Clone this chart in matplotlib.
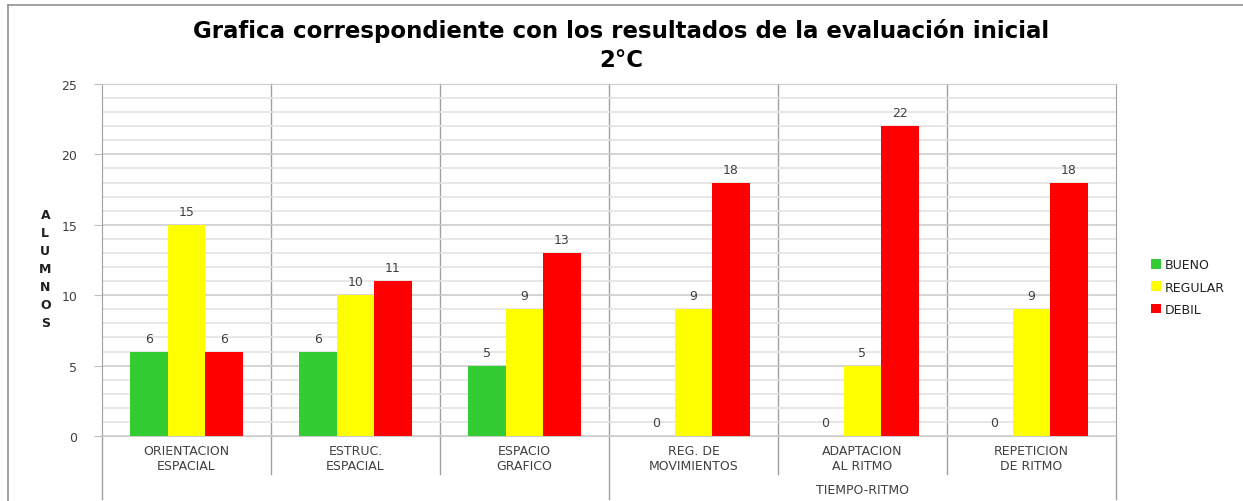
import numpy as np
import matplotlib.pyplot as plt
from matplotlib.lines import Line2D

# data
categories = ['ORIENTACION\nESPACIAL', 'ESTRUC.\nESPACIAL', 'ESPACIO\nGRAFICO',
              'REG. DE\nMOVIMIENTOS', 'ADAPTACION\nAL RITMO', 'REPETICION\nDE RITMO']
bueno = [6, 6, 5, 0, 0, 0]
regular = [15, 10, 9, 9, 5, 9]
debil = [6, 11, 13, 18, 22, 18]
series_names = ['BUENO', 'REGULAR', 'DEBIL']
group_label = 'TIEMPO-RITMO'

colors = ['#33cc33', '#ffff00', '#ff0000']
txt = '#404040'

fig = plt.figure(figsize=(12.43, 5.02), dpi=100, facecolor='white')
ax = fig.add_axes([0.0821, 0.1295, 0.8157, 0.7012])

x = np.arange(len(categories))
w = 0.222
for i, (vals, name) in enumerate(zip([bueno, regular, debil], series_names)):
    bars = ax.bar(x + (i - 1) * w, vals, w, color=colors[i], label=name, zorder=3)
    ax.bar_label(bars, padding=5, fontsize=9, color=txt)

ax.set_xlim(-0.5, len(categories) - 0.5)
ax.set_ylim(0, 25)
ax.set_yticks(range(0, 26, 5))
ax.set_yticks(range(0, 26), minor=True)
ax.grid(True, which='minor', axis='y', color='#e3e3e3', linewidth=1.2, zorder=0)
ax.grid(True, which='major', axis='y', color='#cdcdcd', linewidth=1.2, zorder=0)
ax.tick_params(axis='y', which='minor', length=0)
ax.tick_params(axis='y', which='major', length=6, color='#bfbfbf', labelsize=9,
               labelcolor=txt, pad=12)
ax.set_xticks(x)
ax.set_xticklabels(categories, fontsize=9, color=txt, linespacing=1.2)
ax.tick_params(axis='x', length=0, pad=6)

for s in ['left', 'right']:
    ax.spines[s].set_color('#a0a0a0')
ax.spines['top'].set_color('#cdcdcd')
ax.spines['bottom'].set_color('#cdcdcd')

# category separators, extending below the axis
for b in np.arange(0.5, len(categories) - 1, 1.0):
    bottom = -0.179 if b == 2.5 else -0.108
    ax.plot([b, b], [bottom, 1], transform=ax.get_xaxis_transform(),
            color='#a0a0a0', linewidth=1, clip_on=False, zorder=1)
for b in [-0.5, len(categories) - 0.5]:
    ax.plot([b, b], [-0.179, 0], transform=ax.get_xaxis_transform(),
            color='#a0a0a0', linewidth=1, clip_on=False)

ax.text(4, -0.152, group_label, transform=ax.get_xaxis_transform(),
        ha='center', va='center', fontsize=9, color=txt)

# stacked y label
ax.text(-0.056, 0.475, '\n'.join('ALUMNOS'), transform=ax.transAxes, ha='center',
        va='center', fontsize=9, fontweight='bold', color='#202020', linespacing=1.5)

fig.suptitle('Grafica correspondiente con los resultados de la evaluación inicial\n2°C',
             y=0.962, fontsize=16.5, fontweight='bold', family='DejaVu Sans',
             linespacing=1.35)

leg = ax.legend(loc='center left', bbox_to_anchor=(1.023, 0.423), frameon=False,
                fontsize=9, handlelength=0.8, handleheight=0.8, handletextpad=0.3,
                labelspacing=0.75)
for t in leg.get_texts():
    t.set_color('#202020')

# outer chart border (left and top)
fig.add_artist(Line2D([0.0065, 0.0065], [0, 0.988], color='#909090', linewidth=1.2))
fig.add_artist(Line2D([0.0065, 1], [0.988, 0.988], color='#909090', linewidth=1.2))

fig.savefig('out.png', dpi=100)
